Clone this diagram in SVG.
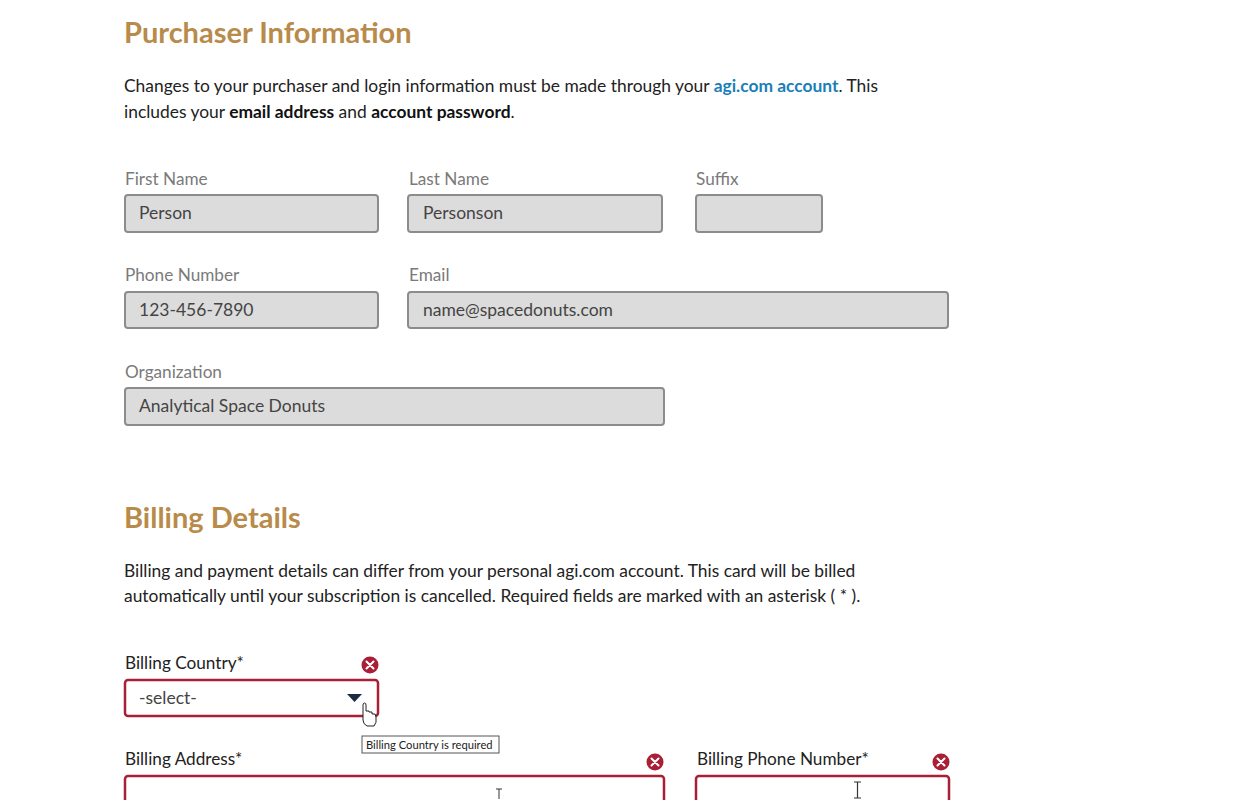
<svg xmlns="http://www.w3.org/2000/svg" width="1260" height="800" viewBox="0 0 1260 800">
<style>
text{font-family:Lato,"Liberation Sans",sans-serif}
.h{font-size:29px;fill:#b88b4a;font-weight:bold}
.p{font-size:17.4px;fill:#222}
.b{font-weight:bold;fill:#111}
.lnk{font-weight:bold;fill:#1a7fb8}
.l{font-size:17.2px;fill:#7a7a7a}
.lr{font-size:17.2px;fill:#222}
.in{fill:#dcdcdc;stroke:#8c8c8c;stroke-width:2}
.v{font-size:17.5px;fill:#444}
.er{fill:#fff;stroke:#a81f36;stroke-width:2.5}
.ic circle{fill:#a81f36}
.ic path{stroke:#fff;stroke-width:2;stroke-linecap:round}
</style>
<defs>
<g id="x" class="ic"><circle r="8.5"/><path d="M-3.5-3.5L3.5 3.5M3.5-3.5L-3.5 3.5"/></g>
</defs>
<rect width="1260" height="800" fill="#fff"/>
<text class="h" x="124" y="43">Purchaser Information</text>
<text class="p" x="124" y="92">Changes to your purchaser and login information must be made through your <tspan class="lnk">agi.com account</tspan>. This</text>
<text class="p" x="124" y="118">includes your <tspan class="b">email address</tspan> and <tspan class="b">account password</tspan>.</text>
<g id="first"><text class="l" x="125" y="185">First Name</text><rect class="in" x="125" y="195" width="253" height="37" rx="3"/><text class="v" x="139" y="219">Person</text></g>
<g id="last"><text class="l" x="409" y="185">Last Name</text><rect class="in" x="408" y="195" width="254" height="37" rx="3"/><text class="v" x="423" y="219">Personson</text></g>
<g id="suffix"><text class="l" x="696" y="185">Suffix</text><rect class="in" x="696" y="195" width="126" height="37" rx="3"/></g>
<g id="phone"><text class="l" x="125" y="281">Phone Number</text><rect class="in" x="125" y="292" width="253" height="36" rx="3"/><text class="v" x="139" y="316">123-456-7890</text></g>
<g id="email"><text class="l" x="409" y="281">Email</text><rect class="in" x="408" y="292" width="540" height="36" rx="3"/><text class="v" x="423" y="316">name@spacedonuts.com</text></g>
<g id="org"><text class="l" x="125" y="378">Organization</text><rect class="in" x="125" y="388" width="539" height="37" rx="3"/><text class="v" x="139" y="412">Analytical Space Donuts</text></g>
<text class="h" x="124" y="528">Billing Details</text>
<text class="p" x="124" y="577">Billing and payment details can differ from your personal agi.com account. This card will be billed</text>
<text class="p" x="124" y="602">automatically until your subscription is cancelled. Required fields are marked with an asterisk ( * ).</text>
<g id="country"><text class="lr" x="125" y="669">Billing Country*</text><use href="#x" x="370" y="665"/>
<rect class="er" x="125" y="680" width="253" height="36" rx="3"/><text class="v" x="139" y="704" fill="#222">-select-</text>
<path d="M347 694h15l-7.5 8z" fill="#1c2a44"/>
<path d="M363 708v12q0 4 4 6h7q3-3 2-9l-1-3-3 0v-2l-3 0v-1l-3 0v-6q0-2-1.5-2t-1.5 2z" fill="#fff" stroke="#222" stroke-width="1"/>
<rect x="362" y="736" width="137" height="17" fill="#fff" stroke="#555" stroke-width="1"/><text x="366" y="749" font-size="11.2" fill="#222">Billing Country is required</text></g>
<g id="address"><text class="lr" x="125" y="765">Billing Address*</text><use href="#x" x="655" y="762"/><rect class="er" x="125" y="776" width="539" height="40" rx="3"/><path d="M496 789h6M499 789v10" stroke="#333" stroke-width="1"/></g>
<g id="bphone"><text class="lr" x="697" y="765">Billing Phone Number*</text><use href="#x" x="941" y="762"/><rect class="er" x="696" y="776" width="253" height="40" rx="3"/><path d="M854 782h7M854 798h7M857.5 782v16" stroke="#333" stroke-width="1.2"/></g>
</svg>
